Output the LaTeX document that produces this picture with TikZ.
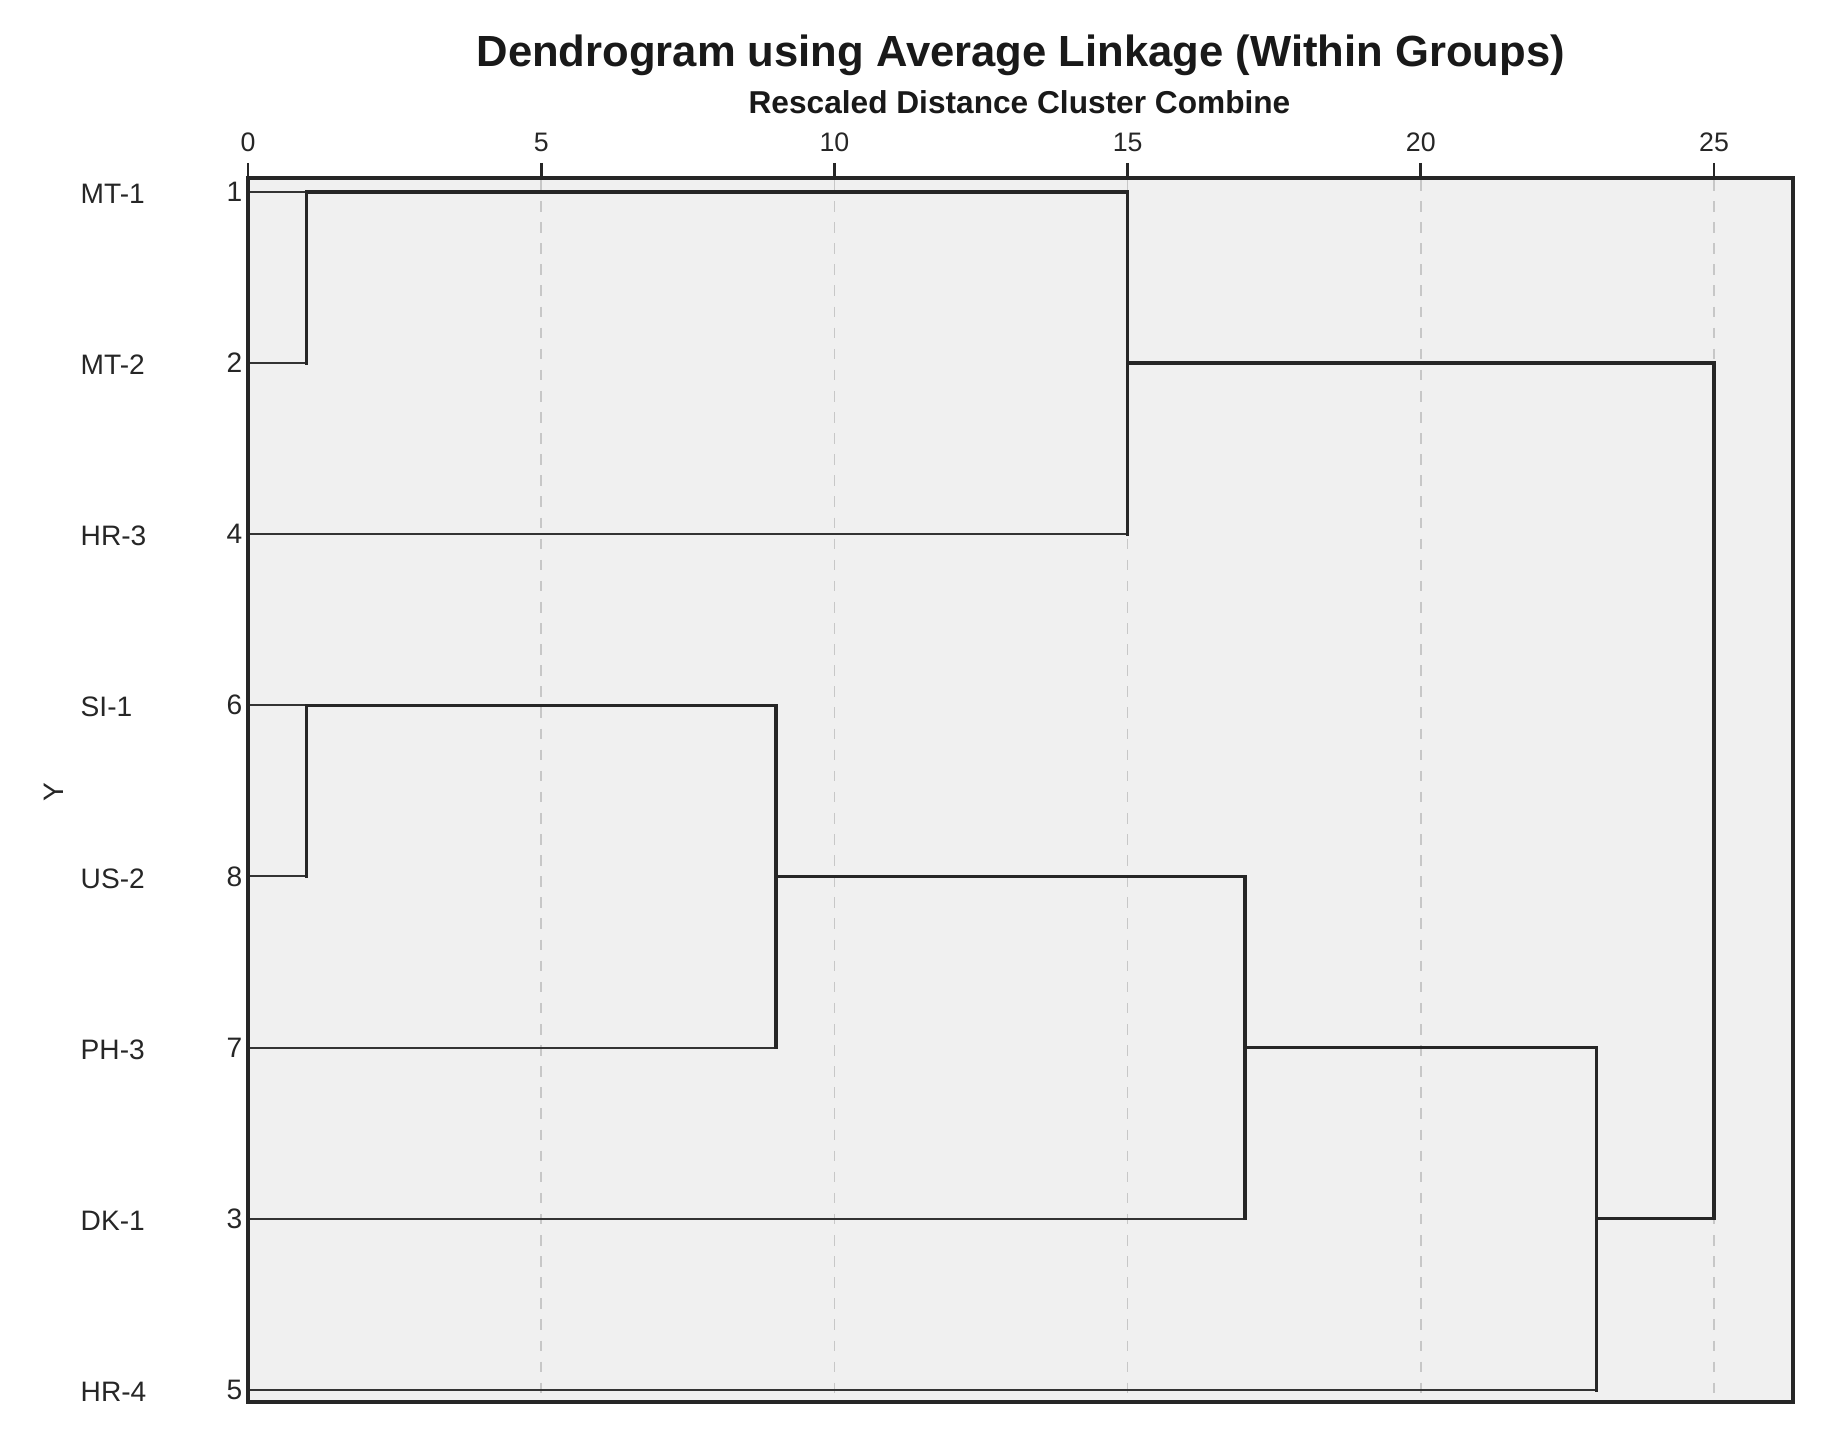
\documentclass[tikz,border=0pt]{standalone}
\usepackage{fontspec}
\setmainfont{Liberation Sans}
\begin{document}
\begin{tikzpicture}[x=0.01cm,y=-0.01cm,
  frame/.style={draw=black!85,line width=1pt},
  merge/.style={draw=black!85,line width=1pt,line cap=rect},
  leaf/.style={draw=black!80,line width=0.6pt},
  grid/.style={draw=black!22,line width=0.45pt,dash pattern=on 3pt off 3pt},
  tick/.style={draw=black!85,line width=0.8pt},
  lab/.style={font=\fontsize{8}{9}\selectfont,text=black!85,inner sep=0pt},
  ticklab/.style={font=\fontsize{7.6}{8}\selectfont,text=black!85,inner sep=0pt}]
\useasboundingbox (0,0) rectangle (1828,1440);
% plot area
\fill[black!6] (248,178) rectangle (1793,1402);
% grid
\foreach \gx in {541.2,834.4,1127.6,1420.8,1714}
  \draw[grid] (\gx,180) -- (\gx,1400);
% titles
\node[font=\bfseries\fontsize{12.4}{14}\selectfont,text=black!90] (title) at (1020.7,55) {Dendrogram using Average Linkage (Within Groups)};
\node[font=\bfseries\fontsize{9}{11}\selectfont,text=black!90] (sub) at (1019.5,102.6) {Rescaled Distance Cluster Combine};
% ticks and labels
\foreach \gx/\t [count=\i] in {248/0,541.2/5,834.4/10,1127.6/15,1420.8/20,1714/25}{
  \draw[tick] (\gx,163) -- (\gx,178);
  \node[ticklab] (tk\i) at (\gx,142) {\t};
}
% Y axis title
\node[lab,rotate=90] (ytitle) at (54,792) {Y};
% leaves
\foreach \yy/\nm/\num/\id in {192/MT-1/1/a,363.1/MT-2/2/b,534.2/HR-3/4/c,705.3/SI-1/6/d,876.4/US-2/8/e,1047.6/PH-3/7/f,1218.7/DK-1/3/g,1389.8/HR-4/5/h}{
  \node[lab,anchor=west] (name\id) at (80,\yy+2) {\nm};
  \node[lab,anchor=east] (num\id) at (243,\yy) {\num};
  \coordinate (\id) at (249,\yy);
}
% merge points
\coordinate (ab) at (306.6,192);
\coordinate (ab2) at (306.6,363.1);
\coordinate (de) at (306.6,705.3);
\coordinate (de2) at (306.6,876.4);
% leaf lines
\draw[leaf] (a) -- (ab);
\draw[leaf] (b) -- (ab2);
\draw[leaf] (c) -- (1127.6,534.2);
\draw[leaf] (d) -- (de);
\draw[leaf] (e) -- (de2);
\draw[leaf] (f) -- (775.8,1047.6);
\draw[leaf] (g) -- (1244.9,1218.7);
\draw[leaf] (h) -- (1596.7,1389.8);
% merges
\draw[merge] (ab2) -- (ab) -- (1127.6,192) -- (1127.6,534.2);
\draw[merge] (1127.6,363.1) -- (1714,363.1) -- (1714,1218.7) -- (1596.7,1218.7);
\draw[merge] (de2) -- (de) -- (775.8,705.3) -- (775.8,1047.6);
\draw[merge] (775.8,876.4) -- (1244.9,876.4) -- (1244.9,1218.7);
\draw[merge] (1244.9,1047.6) -- (1596.7,1047.6) -- (1596.7,1389.8);
% frame
\draw[frame] (248,178) rectangle (1793,1402);
\end{tikzpicture}
\end{document}
